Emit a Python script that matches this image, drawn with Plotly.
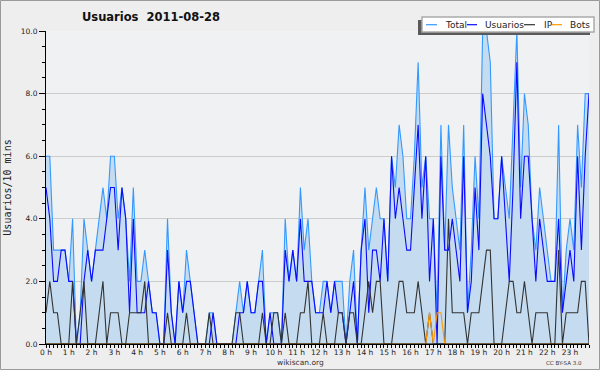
import plotly.graph_objects as go

# ---------------- data (10-minute slots, 2011-08-28) ----------------
slots = list(range(144))

total = [6, 6, 3, 3, 3, 3, 2, 4, 0, 1, 4, 3, 2, 3, 4, 5, 4, 6, 6, 4, 5, 4, 2, 5,
         2, 2, 3, 2, 1, 1, 0, 0, 4, 1, 0, 2, 1, 3, 2, 1, 0, 0, 0, 1, 1, 0, 0, 0,
         0, 0, 1, 2, 1, 2, 1, 1, 2, 3, 0, 1, 1, 1, 0, 4, 2, 3, 2, 5, 3, 4, 2, 1,
         1, 2, 2, 1, 2, 2, 2, 0, 2, 3, 0, 3, 5, 3, 4, 5, 4, 4, 2, 6, 5, 7, 6, 4,
         4, 6, 9, 5, 6, 4, 4, 1, 7, 3, 7, 5, 4, 3, 7, 1, 3, 6, 4, 10, 10, 9, 4, 4,
         6, 5, 4, 7, 10, 5, 8, 7, 4, 3, 5, 4, 3, 2, 2, 7, 1, 3, 4, 3, 7, 5, 8, 8]

usuarios = [5, 4, 2, 2, 3, 3, 2, 2, 0, 0, 2, 3, 2, 3, 3, 3, 4, 5, 5, 3, 5, 4, 1, 4,
            1, 1, 1, 2, 1, 1, 0, 0, 3, 1, 0, 2, 1, 2, 2, 1, 0, 0, 0, 0, 1, 0, 0, 0,
            0, 0, 0, 1, 1, 2, 1, 1, 2, 2, 0, 1, 0, 0, 0, 3, 2, 3, 2, 4, 2, 2, 2, 1,
            1, 1, 2, 1, 2, 1, 1, 0, 1, 2, 0, 3, 4, 1, 3, 3, 2, 4, 2, 6, 4, 5, 4, 3,
            3, 5, 7, 4, 6, 2, 4, 0, 6, 3, 3, 4, 3, 2, 6, 1, 2, 5, 3, 8, 7, 6, 4, 4,
            6, 4, 2, 5, 9, 4, 6, 6, 4, 2, 4, 3, 2, 2, 2, 4, 1, 2, 3, 2, 6, 3, 6, 8]

ip = [1, 2, 1, 1, 0, 0, 0, 2, 0, 1, 2, 0, 0, 0, 1, 2, 0, 1, 1, 1, 0, 0, 1, 1,
      1, 1, 2, 0, 0, 0, 0, 0, 1, 0, 0, 0, 0, 1, 0, 0, 0, 0, 0, 1, 0, 0, 0, 0,
      0, 0, 1, 1, 0, 0, 0, 0, 0, 1, 0, 0, 1, 1, 0, 1, 0, 0, 0, 1, 1, 2, 0, 0,
      0, 1, 0, 0, 0, 1, 1, 0, 1, 1, 0, 0, 1, 2, 1, 2, 2, 0, 0, 0, 1, 2, 2, 1,
      1, 1, 2, 1, 0, 1, 0, 0, 0, 0, 4, 1, 1, 1, 1, 0, 1, 1, 1, 2, 3, 3, 0, 0,
      0, 1, 2, 2, 1, 1, 2, 1, 0, 1, 1, 1, 1, 0, 0, 3, 0, 1, 1, 1, 1, 2, 2, 0]

bots = [0, 0, 0, 0, 0, 0, 0, 0, 0, 0, 0, 0, 0, 0, 0, 0, 0, 0, 0, 0, 0, 0, 0, 0,
        0, 0, 0, 0, 0, 0, 0, 0, 0, 0, 0, 0, 0, 0, 0, 0, 0, 0, 0, 0, 0, 0, 0, 0,
        0, 0, 0, 0, 0, 0, 0, 0, 0, 0, 0, 0, 0, 0, 0, 0, 0, 0, 0, 0, 0, 0, 0, 0,
        0, 0, 0, 0, 0, 0, 0, 0, 0, 0, 0, 0, 0, 0, 0, 0, 0, 0, 0, 0, 0, 0, 0, 0,
        0, 0, 0, 0, 0, 1, 0, 1, 1, 0, 0, 0, 0, 0, 0, 0, 0, 0, 0, 0, 0, 0, 0, 0,
        0, 0, 0, 0, 0, 0, 0, 0, 0, 0, 0, 0, 0, 0, 0, 0, 0, 0, 0, 0, 0, 0, 0, 0]

hour_slots = [0, 6, 12, 18, 24, 30, 36, 42, 48, 54, 60, 66, 72, 78, 84, 90,
              96, 102, 108, 114, 120, 126, 132, 138]
hour_labels = ["0 h", "1 h", "2 h", "3 h", "4 h", "5 h", "6 h", "7 h", "8 h",
               "9 h", "10 h", "11 h", "12 h", "13 h", "14 h", "15 h", "16 h",
               "17 h", "18 h", "19 h", "20 h", "21 h", "22 h", "23 h"]

series_names = ["Total", "Usuarios", "IP", "Bots"]
title_text = "Usuarios\u00a0\u00a02011-08-28"
y_title = "Usuarios/10 mins"

# ---------------- styling ----------------
W, H = 600, 370
L, R, T, B = 46, 589, 31, 344
PW, PH = R - L, B - T

C_TOTAL = "#3399ff"
C_FILL = "#c5dcf0"
C_USU = "#0a0aff"
C_IP = "#333333"
C_BOTS = "#ff9900"
colors = [C_TOTAL, C_USU, C_IP, C_BOTS]


def fx(px):
    return (px - L) / PW


def fy(py):
    return (B - py) / PH


fig = go.Figure()
fig.add_trace(go.Scatter(x=slots, y=total, name=series_names[0], mode="lines",
                         line=dict(color=C_TOTAL, width=1.1),
                         fill="tozeroy", fillcolor=C_FILL, showlegend=False))
fig.add_trace(go.Scatter(x=slots, y=usuarios, name=series_names[1], mode="lines",
                         line=dict(color=C_USU, width=1.1), showlegend=False))
fig.add_trace(go.Scatter(x=slots, y=ip, name=series_names[2], mode="lines",
                         line=dict(color=C_IP, width=1.1), showlegend=False))
fig.add_trace(go.Scatter(x=slots, y=bots, name=series_names[3], mode="lines",
                         line=dict(color=C_BOTS, width=1.1), showlegend=False))

tickfont = dict(family="DejaVu Sans", size=7.5, color="#222222")

fig.update_layout(
    width=W, height=H,
    margin=dict(l=L, r=W - R, t=T, b=H - B, pad=0, autoexpand=False),
    paper_bgcolor="#eeeeee",
    plot_bgcolor="#f0f1f3",
    title=dict(text=title_text, x=151 / W, xanchor="center",
               y=1 - 16.5 / H, yanchor="middle",
               font=dict(family="DejaVu Sans", size=11.5, color="#111111",
                         weight="bold")),
    xaxis=dict(range=[0, 143], tickmode="array", tickvals=hour_slots,
               ticktext=hour_labels, ticks="outside", ticklen=3,
               tickcolor="#000000", showgrid=False, zeroline=False,
               showline=True, linecolor="#000000", linewidth=1,
               tickfont=tickfont, automargin=False, ticklabelstandoff=-2,
               minor=dict(tickmode="linear", tick0=0, dtick=1,
                          ticks="outside", ticklen=3, tickcolor="#000000",
                          showgrid=False)),
    yaxis=dict(range=[0, 10], dtick=2, tick0=0, tickformat=".1f",
               ticks="outside", ticklen=6, tickcolor="#000000",
               showgrid=True, gridcolor="#cccccc", gridwidth=1,
               zeroline=False, showline=True, linecolor="#000000",
               linewidth=1, tickfont=tickfont, automargin=False,
               minor=dict(tickmode="linear", tick0=0, dtick=0.5,
                          ticks="outside", ticklen=3, tickcolor="#000000",
                          showgrid=False),
               title=dict(text=y_title, standoff=7,
                          font=dict(family="DejaVu Sans Mono", size=10,
                                    color="#222222"))),
    hovermode=False,
)

shapes = []
# outer frame
shapes.append(dict(type="rect", xref="paper", yref="paper",
                   x0=fx(0.5), x1=fx(W - 0.5), y0=fy(H - 0.5), y1=fy(0.5),
                   line=dict(color="#9a9a9a", width=1), fillcolor="rgba(0,0,0,0)",
                   layer="above"))
# cover zero-level lines with the axis colour
shapes.append(dict(type="line", xref="x", yref="y", x0=0, x1=143, y0=0, y1=0,
                   line=dict(color="#000000", width=1), layer="above"))
# legend shadow and box
shapes.append(dict(type="rect", xref="paper", yref="paper",
                   x0=fx(418), x1=fx(590), y0=fy(35), y1=fy(20),
                   fillcolor="#5a5a5a", line=dict(width=0), layer="above"))
shapes.append(dict(type="rect", xref="paper", yref="paper",
                   x0=fx(422), x1=fx(594), y0=fy(32), y1=fy(17),
                   fillcolor="#ffffff", line=dict(color="#aaaaaa", width=1.5),
                   layer="above"))

legend_lines = [(426, 437), (467, 477), (524, 535), (552, 562)]
legend_text_x = [443, 483, 542, 568]
ly = 24.7
annotations = []
for (a, b), tx, name, col in zip(legend_lines, legend_text_x, series_names, colors):
    shapes.append(dict(type="line", xref="paper", yref="paper",
                       x0=fx(a), x1=fx(b), y0=fy(ly), y1=fy(ly),
                       line=dict(color=col, width=1.2), layer="above"))
    annotations.append(dict(text=name, xref="paper", yref="paper",
                            x=fx(tx), y=fy(ly), xanchor="left", yanchor="middle",
                            showarrow=False,
                            font=dict(family="DejaVu Sans", size=9,
                                      color="#222222")))

annotations.append(dict(text="wikiscan.org", xref="paper", yref="paper",
                        x=fx(300), y=fy(362.5), xanchor="center",
                        yanchor="middle", showarrow=False,
                        font=dict(family="DejaVu Sans", size=7.5,
                                  color="#333333")))
annotations.append(dict(text="CC BY-SA 3.0", xref="paper", yref="paper",
                        x=fx(564), y=fy(362.5), xanchor="center",
                        yanchor="middle", showarrow=False,
                        font=dict(family="DejaVu Sans", size=5.5,
                                  color="#333333")))

fig.update_layout(shapes=shapes, annotations=annotations)

fig.write_html("out.html", config={"displayModeBar": False},
               post_script="document.body.style.margin='0';"
                           "document.body.style.padding='0';")
